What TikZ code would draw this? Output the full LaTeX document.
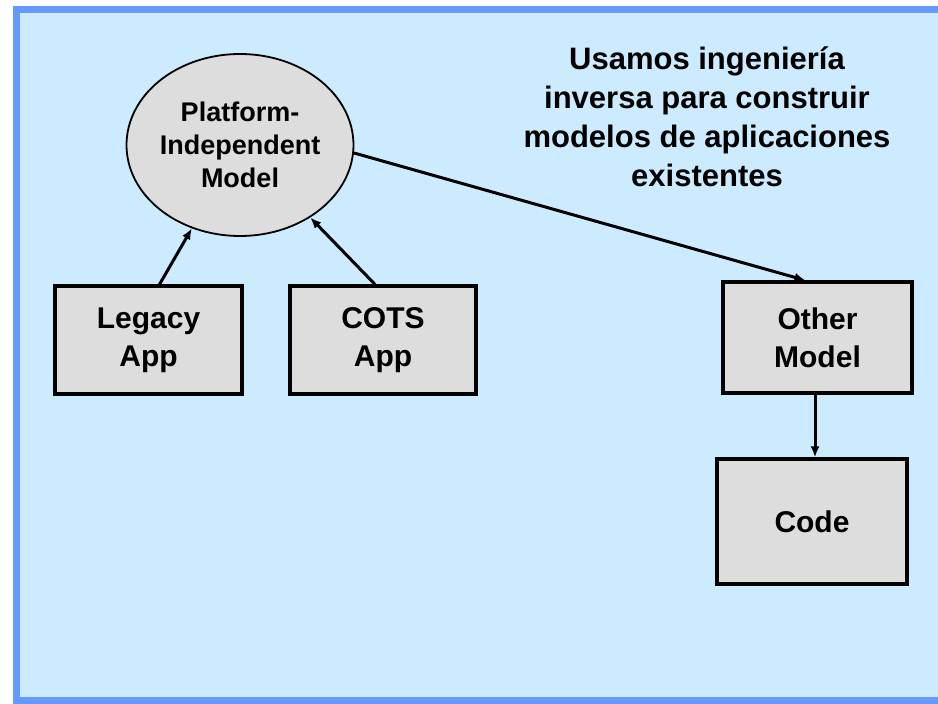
\documentclass[tikz,border=0pt]{standalone}
\usepackage{fontspec}
\setmainfont{Liberation Sans}
\usetikzlibrary{arrows.meta,shapes.geometric}
\definecolor{panelfill}{RGB}{204,235,255}
\definecolor{panelline}{RGB}{102,153,255}
\definecolor{boxfill}{RGB}{221,221,221}
\tikzset{
	appbox/.style={draw=black, line width=3.2pt, fill=boxfill, align=center, inner sep=0pt,
		font=\fontsize{30}{38.4}\selectfont\bfseries},
	modelcircle/.style={ellipse, draw=black, line width=1.8pt, fill=boxfill, align=center, inner sep=0pt,
		minimum width=195pt, minimum height=182pt, font=\fontsize{27}{33}\selectfont\bfseries},
	flow/.style={line width=3pt, -{Latex[length=11pt,width=9pt]}}
}

\begin{document}
\begin{tikzpicture}[x=1pt, y=-1pt]
		%%%%% START %%%%%
		
		\useasboundingbox (0, 0) rectangle (938, 704);
		\clip (0, 0) rectangle (938, 704);
		\draw[line width=7pt, draw=panelline, fill=panelfill] (16, 9.5) rectangle (960, 700.5);
		
		\node[modelcircle] (pim) at (240, 145) {Platform-\\Independent\\Model};
		
		\node[appbox, minimum width=187pt, minimum height=108pt] (legacy) at (148.5, 340) {Legacy\\App};
		\node[appbox, minimum width=186pt, minimum height=108pt] (cots) at (383, 340) {COTS\\App};
		
		\node[appbox, minimum width=189pt, minimum height=111pt] (other) at (817.5, 337.5) {Other\\Model};
		\node[appbox, minimum width=190pt, minimum height=125pt] (code) at (812, 521.5) {Code};
		
		\node[align=center, font=\fontsize{31}{39}\selectfont\bfseries] (note) at (707, 117)
			{Usamos ingenier\'{\i}a\\inversa para construir\\modelos de aplicaciones\\existentes};
		
		\draw[flow] ([xshift=11pt]legacy.north) -- (pim);
		\draw[flow] ([xshift=-8pt]cots.north) -- (pim);
		\draw[flow] (pim.-4) -- ([xshift=-12pt]other.north);
		\draw[flow] ([xshift=-2.5pt]other.south) -- ([xshift=-2.5pt]other.south |- code.north);
		
		%%%%% END %%%%%
	\end{tikzpicture}
\end{document}
